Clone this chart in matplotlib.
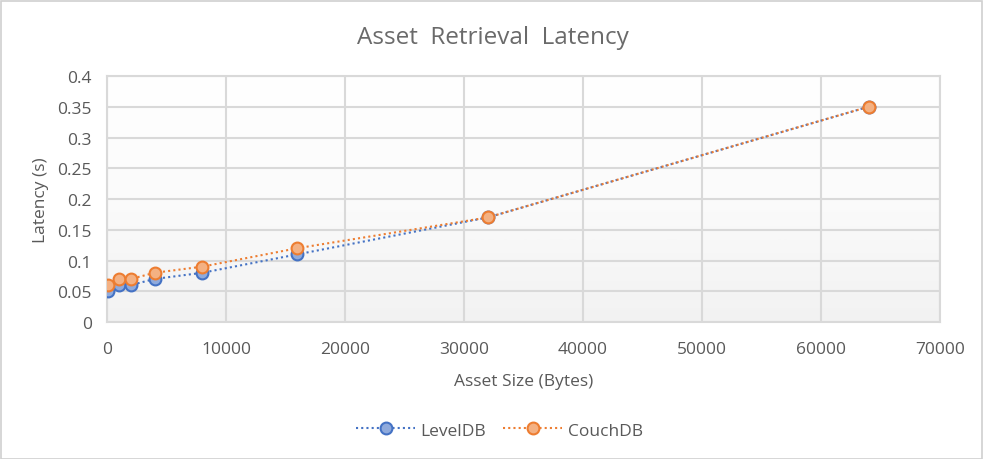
import numpy as np
import matplotlib.pyplot as plt
from matplotlib.colors import LinearSegmentedColormap
from matplotlib.patches import Rectangle

# asset size in bytes and latency in seconds
sizes = [100, 1000, 2000, 4000, 8000, 16000, 32000, 64000]
leveldb = [0.05, 0.06, 0.06, 0.07, 0.08, 0.11, 0.17, 0.35]
couchdb = [0.06, 0.07, 0.07, 0.08, 0.09, 0.12, 0.17, 0.35]
x_ticks = [0, 10000, 20000, 30000, 40000, 50000, 60000, 70000]
y_ticks = [0, 0.05, 0.1, 0.15, 0.2, 0.25, 0.3, 0.35, 0.4]
y_labels = ["0", "0.05", "0.1", "0.15", "0.2", "0.25", "0.3", "0.35", "0.4"]

plt.rcParams["font.family"] = ["Open Sans", "DejaVu Sans"]
TEXT = "#595959"
GRID = "#d9d9d9"

fig = plt.figure(figsize=(9.85, 4.6), dpi=100)
fig.patches.append(Rectangle((0.001, 0.0), 0.996, 0.995, transform=fig.transFigure,
                             fill=False, edgecolor="#d0d0d0", linewidth=1.2))
ax = fig.add_axes([0.1086, 0.2978, 0.8457, 0.5348])

# light vertical gradient behind the plot area
grad = np.linspace(1.0, 0.0, 256).reshape(-1, 1)
bg = LinearSegmentedColormap.from_list("bg", ["#f2f2f2", "#fbfbfb", "#ffffff"])
ax.imshow(grad, extent=[0, 1, 0, 1], transform=ax.transAxes, aspect="auto",
          cmap=bg, vmin=0, vmax=1, zorder=0)

ax.plot(sizes, leveldb, linestyle=(0, (1, 1.5)), color="#4472c4", linewidth=1.5,
        marker="o", markersize=8.5, markerfacecolor="#8faadc", markeredgecolor="#4472c4",
        markeredgewidth=1.5, label="LevelDB", zorder=3)
ax.plot(sizes, couchdb, linestyle=(0, (1, 1.5)), color="#ed7d31", linewidth=1.5,
        marker="o", markersize=8.5, markerfacecolor="#f4b183", markeredgecolor="#ed7d31",
        markeredgewidth=1.5, label="CouchDB", zorder=4)

ax.set_xlim(0, 70000)
ax.set_ylim(0, 0.4)
ax.set_xticks(x_ticks)
ax.set_xticklabels([str(t) for t in x_ticks])
ax.set_yticks(y_ticks)
ax.set_yticklabels(y_labels)
ax.grid(True, color=GRID, linewidth=1.5, zorder=1)
ax.set_axisbelow(True)
for s in ax.spines.values():
    s.set_color(GRID)
    s.set_linewidth(1.5)
ax.tick_params(length=0, labelsize=12.5, labelcolor=TEXT)
ax.tick_params(axis="x", pad=14)
ax.tick_params(axis="y", pad=11)

ax.set_xlabel("Asset Size (Bytes)", fontsize=12.5, color=TEXT, labelpad=11)
ax.set_ylabel("Latency (s)", fontsize=12.5, color=TEXT, labelpad=6)
fig.text(0.5, 0.918, "Asset  Retrieval  Latency", ha="center", va="center",
         fontsize=17.5, color="#6a6a6a")

fig.legend(loc="center", bbox_to_anchor=(0.507, 0.062), ncol=2, frameon=False,
           fontsize=12.5, labelcolor=TEXT, handlelength=3.4, handletextpad=0.3,
           columnspacing=1.0)

plt.savefig("out.png", dpi=100)
plt.close()
